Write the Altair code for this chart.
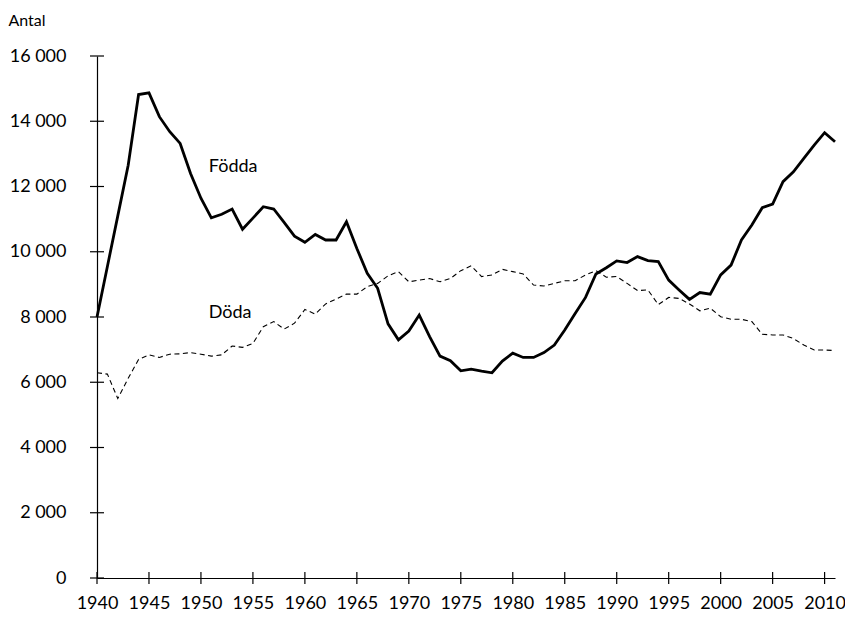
import altair as alt
import pandas as pd

years = list(range(1940, 2012))
fodda = [8000, 9550, 11100, 12650, 14820, 14870, 14140, 13680, 13320, 12400,
         11640, 11040, 11150, 11310, 10690, 11030, 11380, 11310, 10900, 10480,
         10290, 10530, 10360, 10360, 10920, 10100, 9340, 8880, 7790, 7300,
         7570, 8060, 7400, 6800, 6660, 6350, 6400, 6340, 6290, 6650,
         6890, 6760, 6760, 6910, 7140, 7600, 8110, 8600, 9320, 9510,
         9720, 9670, 9850, 9730, 9700, 9130, 8830, 8540, 8750, 8700,
         9290, 9590, 10360, 10820, 11350, 11460, 12150, 12450, 12860, 13270,
         13650, 13370]
doda = [6290, 6250, 5500, 6120, 6700, 6840, 6760, 6860, 6870, 6910,
        6860, 6800, 6840, 7110, 7070, 7190, 7700, 7860, 7630, 7810,
        8230, 8090, 8400, 8550, 8700, 8700, 8930, 9030, 9260, 9390,
        9080, 9130, 9180, 9080, 9180, 9420, 9570, 9240, 9290, 9460,
        9390, 9320, 8980, 8950, 9030, 9110, 9110, 9290, 9420, 9220,
        9240, 9030, 8810, 8830, 8380, 8600, 8570, 8400, 8190, 8270,
        8010, 7930, 7930, 7860, 7470, 7450, 7450, 7340, 7140, 6990,
        6990, 6970]
x_ticks = list(range(1940, 2011, 5))
y_ticks = list(range(0, 16001, 2000))
label_text = ["Födda", "Döda"]
label_x = [1953.1, 1952.8]
label_y = [12600, 8120]

W, H = 738, 522
FONT = "Lato"
FS = 18

df_f = pd.DataFrame({"year": years, "value": fodda})
df_d = pd.DataFrame({"year": years, "value": doda})
df_xt = pd.DataFrame({"year": x_ticks})
df_yt = pd.DataFrame({"value": y_ticks})
df_lab = pd.DataFrame({"text": label_text, "year": label_x, "value": label_y})

xscale = alt.Scale(domain=[1940, 2011], nice=False, zero=False)
yscale = alt.Scale(domain=[0, 16000], nice=False)

x_axis = alt.Axis(values=x_ticks, format="d", ticks=False, grid=False,
                  domainColor="black", domainWidth=1.2,
                  labelFontSize=FS, labelFont=FONT, labelColor="black",
                  labelBaseline="alphabetic", labelPadding=30,
                  labelFlush=False, labelOverlap=False, title=None)
y_axis = alt.Axis(values=y_ticks, ticks=False, grid=False,
                  domainColor="black", domainWidth=1.2,
                  labelFontSize=FS, labelFont=FONT, labelColor="black",
                  labelPadding=31,
                  labelExpr="replace(format(datum.value, ','), ',', ' ')",
                  title="Antal", titleAngle=0, titleAlign="left",
                  titleBaseline="alphabetic", titleX=-89, titleY=-31,
                  titleFont=FONT, titleFontSize=16, titleFontWeight="normal",
                  titleColor="black")

X = alt.X("year:Q", scale=xscale, axis=x_axis)
Y = alt.Y("value:Q", scale=yscale, axis=y_axis)

fl = alt.Chart(df_f).mark_line(color="black", strokeWidth=2.8).encode(x=X, y=Y)
dl = alt.Chart(df_d).mark_line(color="black", strokeWidth=1.1, strokeDash=[5, 3.5]).encode(x=X, y=Y)
xt = alt.Chart(df_xt).mark_rule(color="black", strokeWidth=1.2).encode(
    x=X, y=alt.value(H - 6), y2=alt.value(H + 6),
)
yt = alt.Chart(df_yt).mark_rule(color="black", strokeWidth=1.2).encode(
    y=Y, x=alt.value(-7), x2=alt.value(7),
)
lab = alt.Chart(df_lab).mark_text(font=FONT, fontSize=FS, color="black",
                                  align="center", baseline="middle").encode(
    x=X, y=Y, text="text:N",
)

chart = alt.layer(fl, dl, xt, yt, lab).properties(
    width=W, height=H,
    autosize=alt.AutoSizeParams(type="none"),
    padding={"left": 89, "top": 48, "right": 10, "bottom": 34},
    background="white",
).configure_view(stroke=None)

chart.save("out.html", embed_options={"renderer": "svg", "actions": False})
